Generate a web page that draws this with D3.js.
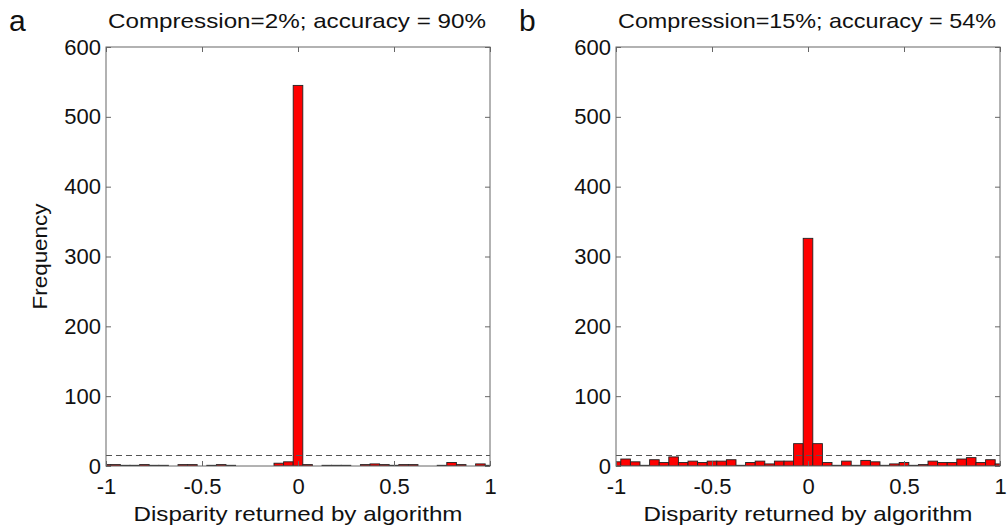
<html>
<head>
<style>
body { margin: 0; background: #fff; font-family: Arial, "Liberation Sans", sans-serif; }
svg text { fill: #111; }
</style>
</head>
<body>
<script src="https://cdnjs.cloudflare.com/ajax/libs/d3/7.8.5/d3.min.js"></script>
<script>
const width = 1007, height = 530;

// bin centres, -1 .. 1 in steps of 0.05
const binCentres = d3.range(-20, 21).map(i => i / 20);

// frequencies, one per bin
const countsA = [2, 2, 1, 1, 2, 1, 1, 0, 2, 2, 0, 1, 2, 1, 0, 0, 0, 0, 4, 6,
    545,
    2, 0, 1, 1, 1, 0, 2, 3, 2, 1, 2, 2, 0, 0, 1, 5, 2, 0, 3, 1];
const countsB = [6, 10, 6, 1, 9, 5, 13, 5, 7, 5, 7, 7, 9, 1, 5, 7, 3, 7, 7, 32,
    326,
    32, 5, 1, 7, 1, 8, 6, 1, 3, 5, 1, 2, 7, 5, 5, 10, 12, 5, 9, 3];

const titles = ['Compression=2%; accuracy = 90%', 'Compression=15%; accuracy = 54%'];
const letters = ['a', 'b'];
const xTicks = [-1, -0.5, 0, 0.5, 1];
const yTicks = [0, 100, 200, 300, 400, 500, 600];
const threshold = 15;

const panels = [
    {counts: countsA, title: titles[0], letter: letters[0], x0: 106, x1: 490, ylabel: true},
    {counts: countsB, title: titles[1], letter: letters[1], x0: 616, x1: 1000, ylabel: false}
];
const yTop = 47, yBottom = 466;
const font = 'Arial, "Liberation Sans", sans-serif';

const svg = d3.select('body').append('svg')
    .attr('width', width)
    .attr('height', height);

const y = d3.scaleLinear().domain([0, 600]).range([yBottom, yTop]);

panels.forEach((p, pi) => {
    const x = d3.scaleLinear().domain([-1, 1]).range([p.x0, p.x1]);
    const bw = x(0.05) - x(0);
    const g = svg.append('g');

    g.append('clipPath').attr('id', 'clip' + pi)
      .append('rect')
        .attr('x', p.x0).attr('y', yTop)
        .attr('width', p.x1 - p.x0).attr('height', yBottom - yTop);

    g.append('g')
        .attr('clip-path', 'url(#clip' + pi + ')')
        .selectAll('rect')
        .data(binCentres.map((c, i) => ({c: c, n: p.counts[i]})))
      .enter().append('rect')
        .attr('x', d => x(d.c) - bw / 2)
        .attr('width', bw)
        .attr('y', d => y(d.n))
        .attr('height', d => y(0) - y(d.n))
        .attr('fill', '#ff0000')
        .attr('stroke', '#222')
        .attr('stroke-width', 0.9);

    // dashed threshold
    g.append('line')
        .attr('x1', p.x0).attr('x2', p.x1)
        .attr('y1', y(threshold)).attr('y2', y(threshold))
        .attr('stroke', '#555')
        .attr('stroke-width', 1.1)
        .attr('stroke-dasharray', '6,4');

    // box
    g.append('rect')
        .attr('x', p.x0).attr('y', yTop)
        .attr('width', p.x1 - p.x0).attr('height', yBottom - yTop)
        .attr('fill', 'none')
        .attr('stroke', '#666')
        .attr('stroke-width', 1);

    // inward ticks, all four sides
    const xb = d3.axisBottom(x).tickValues(xTicks).tickSizeInner(-5).tickSizeOuter(0)
        .tickFormat(d => d3.format('')(d).replace('−', '-'));
    const gx = g.append('g').attr('transform', 'translate(0,' + yBottom + ')').call(xb);
    gx.select('.domain').remove();
    gx.selectAll('line').attr('stroke', '#666');
    gx.selectAll('text').attr('y', 12).attr('dy', '0.71em')
        .style('font-size', '22px').style('font-family', font)
        .attr('fill', '#111');

    const xt = d3.axisTop(x).tickValues(xTicks).tickSizeInner(-5).tickSizeOuter(0).tickFormat('');
    const gxt = g.append('g').attr('transform', 'translate(0,' + yTop + ')').call(xt);
    gxt.select('.domain').remove();
    gxt.selectAll('line').attr('stroke', '#666');

    const yl = d3.axisLeft(y).tickValues(yTicks).tickSizeInner(-5).tickSizeOuter(0);
    const gy = g.append('g').attr('transform', 'translate(' + p.x0 + ',0)').call(yl);
    gy.select('.domain').remove();
    gy.selectAll('line').attr('stroke', '#666');
    gy.selectAll('text').attr('x', -5)
        .style('font-size', '22px').style('font-family', font)
        .attr('fill', '#111');

    const yr = d3.axisRight(y).tickValues(yTicks).tickSizeInner(-5).tickSizeOuter(0).tickFormat('');
    const gyr = g.append('g').attr('transform', 'translate(' + p.x1 + ',0)').call(yr);
    gyr.select('.domain').remove();
    gyr.selectAll('line').attr('stroke', '#666');

    const cx = (p.x0 + p.x1) / 2;
    g.append('text')
        .attr('x', cx - 1).attr('y', 28)
        .attr('text-anchor', 'middle')
        .attr('textLength', 378)
        .attr('lengthAdjust', 'spacingAndGlyphs')
        .style('font-size', '21px')
        .text(p.title);

    g.append('text')
        .attr('x', cx).attr('y', 521)
        .attr('text-anchor', 'middle')
        .attr('textLength', 329)
        .attr('lengthAdjust', 'spacingAndGlyphs')
        .style('font-size', '21px')
        .text('Disparity returned by algorithm');

    g.append('text')
        .attr('x', p.x0 - 97).attr('y', 31)
        .style('font-size', '30px')
        .text(p.letter);

    if (p.ylabel) {
        g.append('text')
            .attr('transform', 'translate(47,' + ((yTop + yBottom) / 2) + ') rotate(-90)')
            .attr('text-anchor', 'middle')
            .attr('textLength', 106)
            .attr('lengthAdjust', 'spacingAndGlyphs')
            .style('font-size', '21px')
            .text('Frequency');
    }
});
</script>
</body>
</html>
